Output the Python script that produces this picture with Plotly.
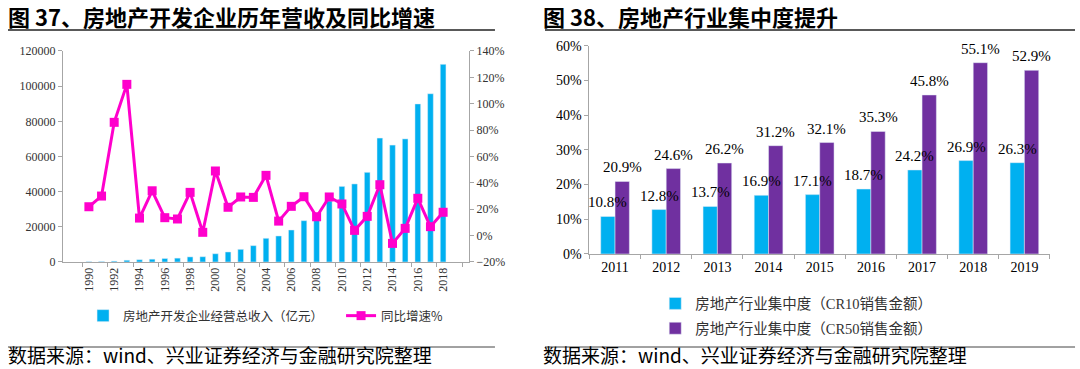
import plotly.graph_objects as go

# ---------------- data ----------------
years_left = [str(y) for y in range(1990, 2019)]
revenue = [200, 300, 500, 1000, 1300, 1600, 2000, 2200, 2900, 3000,
           4700, 5700, 7200, 9300, 13480, 14800, 18200, 23500, 26700, 34700,
           43000, 44400, 51000, 70500, 66500, 70000, 89900, 95700, 112400]
growth = [21.9, 30.0, 85.9, 114.7, 13.3, 34.0, 13.6, 12.6, 32.8, 2.5,
          49.0, 21.5, 29.3, 29.0, 45.7, 11.0, 22.2, 29.5, 14.3, 29.3,
          24.0, 4.0, 14.6, 38.6, -5.9, 5.5, 28.3, 6.8, 17.7]

years_right = [str(y) for y in range(2011, 2020)]
cr10 = [10.8, 12.8, 13.7, 16.9, 17.1, 18.7, 24.2, 26.9, 26.3]
cr50 = [20.9, 24.6, 26.2, 31.2, 32.1, 35.3, 45.8, 55.1, 52.9]

name_rev = "房地产开发企业经营总收入（亿元）"
name_growth = "同比增速%"
name_cr10 = "房地产行业集中度（CR10销售金额）"
name_cr50 = "房地产行业集中度（CR50销售金额）"

title_left = "图 37、房地产开发企业历年营收及同比增速"
title_right = "图 38、房地产行业集中度提升"
source = "数据来源：wind、兴业证券经济与金融研究院整理"

# ---------------- styles ----------------
BLUE = "#00B0F0"
PURPLE = "#7030A0"
MAGENTA = "#FF00CC"
AXIS = "#A6A6A6"
SERIF = "Liberation Serif, Noto Sans CJK SC"
CJK = "Noto Sans CJK SC"

RIGHT_DOMAIN = [0.5458, 0.9722]
BARGAP = 0.44

fig = go.Figure()

fig.add_trace(go.Bar(
    x=years_left, y=revenue, name=name_rev, marker_color=BLUE,
    width=0.45, xaxis="x", yaxis="y", legend="legend",
))
fig.add_trace(go.Scatter(
    x=years_left, y=growth, name=name_growth, mode="lines+markers",
    line=dict(color=MAGENTA, width=3),
    marker=dict(symbol="square", size=9, color=MAGENTA),
    xaxis="x", yaxis="y2", legend="legend",
))

fig.add_trace(go.Bar(
    x=years_right, y=cr10, name=name_cr10, marker_color=BLUE,
    xaxis="x2", yaxis="y3", legend="legend2", legendgroup="a",
))
fig.add_trace(go.Bar(
    x=years_right, y=cr50, name=name_cr50, marker_color=PURPLE,
    xaxis="x2", yaxis="y3", legend="legend2", legendgroup="b",
))

# data labels (drawn on top of all bars), centred on each bar of the group
cat_px = (RIGHT_DOMAIN[1] - RIGHT_DOMAIN[0]) * 1080 / len(years_right)
half_bar = cat_px * (1 - BARGAP) / 4
for series, shift in [(cr10, -half_bar), (cr50, half_bar)]:
    for idx, val in enumerate(series):
        fig.add_annotation(
            x=idx, y=val, xref="x2", yref="y3", text=f"{val:.1f}%",
            showarrow=False, xanchor="center", yanchor="bottom",
            xshift=shift, yshift=4,
            font=dict(family=SERIF, size=15, color="#000000"),
        )

axis_common = dict(showgrid=False, zeroline=False, showline=True,
                   linecolor=AXIS, linewidth=1, ticks="outside",
                   tickcolor=AXIS, ticklen=4, automargin=False)

fig.update_layout(
    width=1080, height=369,
    margin=dict(l=0, r=0, t=0, b=0, autoexpand=False),
    paper_bgcolor="white", plot_bgcolor="white",
    barmode="group", bargap=BARGAP, bargroupgap=0,
    font=dict(family=SERIF, color="#000000"),
    showlegend=True,
    xaxis=dict(domain=[0.0583, 0.4343], anchor="y", type="category",
               tickangle=-90, dtick=2, tickson="boundaries",
               tickfont=dict(family=SERIF, size=12, color="#333333"),
               **axis_common),
    yaxis=dict(domain=[0.29, 0.8618], anchor="x", range=[0, 120000],
               dtick=20000, tickformat="d",
               tickfont=dict(family=SERIF, size=12, color="#333333"),
               **axis_common),
    yaxis2=dict(overlaying="y", side="right", anchor="x", range=[-20, 140],
                dtick=20, ticksuffix="%",
                tickfont=dict(family=SERIF, size=12, color="#333333"),
                **axis_common),
    xaxis2=dict(domain=RIGHT_DOMAIN, anchor="y3", type="category",
                tickson="boundaries", range=[-0.5, len(years_right) - 0.5],
                tickfont=dict(family=SERIF, size=14, color="#000000"),
                **axis_common),
    yaxis3=dict(domain=[0.3117, 0.8762], anchor="x2", range=[0, 60],
                dtick=10, ticksuffix="%",
                tickfont=dict(family=SERIF, size=14, color="#000000"),
                **axis_common),
    legend=dict(orientation="h", x=0.0769, y=0.1436, yanchor="middle",
                xanchor="left", font=dict(family=CJK, size=12.5, color="#333333"),
                bgcolor="rgba(0,0,0,0)", entrywidth=213, entrywidthmode="pixels"),
    legend2=dict(orientation="v", x=0.6067, y=0.221, yanchor="top",
                 xanchor="left", font=dict(family=SERIF, size=14.5, color="#333333"),
                 bgcolor="rgba(0,0,0,0)", tracegroupgap=3,
                 itemwidth=30),
)

# titles
for txt, x in [(title_left, 0.0056), (title_right, 0.501)]:
    fig.add_annotation(text=f"<b>{txt}</b>", xref="paper", yref="paper",
                       x=x, y=0.9553, xanchor="left", yanchor="middle",
                       showarrow=False, font=dict(family=CJK, size=22, color="#000000"))
# sources
for x in [0.0056, 0.501]:
    fig.add_annotation(text=source, xref="paper", yref="paper",
                       x=x, y=0.0393, xanchor="left", yanchor="middle",
                       showarrow=False, font=dict(family=CJK, size=19, color="#000000"))

# rule lines
for x0, x1 in [(0.0074, 0.4583), (0.5046, 0.9954)]:
    fig.add_shape(type="line", xref="paper", yref="paper", x0=x0, x1=x1,
                  y0=0.9187, y1=0.9187, line=dict(color="#222222", width=1.5))
    fig.add_shape(type="line", xref="paper", yref="paper", x0=x0, x1=x1,
                  y0=0.0596, y1=0.0596, line=dict(color="#444444", width=1))

# page without the browser's default body margin, so the figure sits at (0, 0)
fig.write_html("out.html",
               config={"displayModeBar": False},
               post_script="document.body.style.margin='0';"
                           "document.body.style.overflow='hidden';")
